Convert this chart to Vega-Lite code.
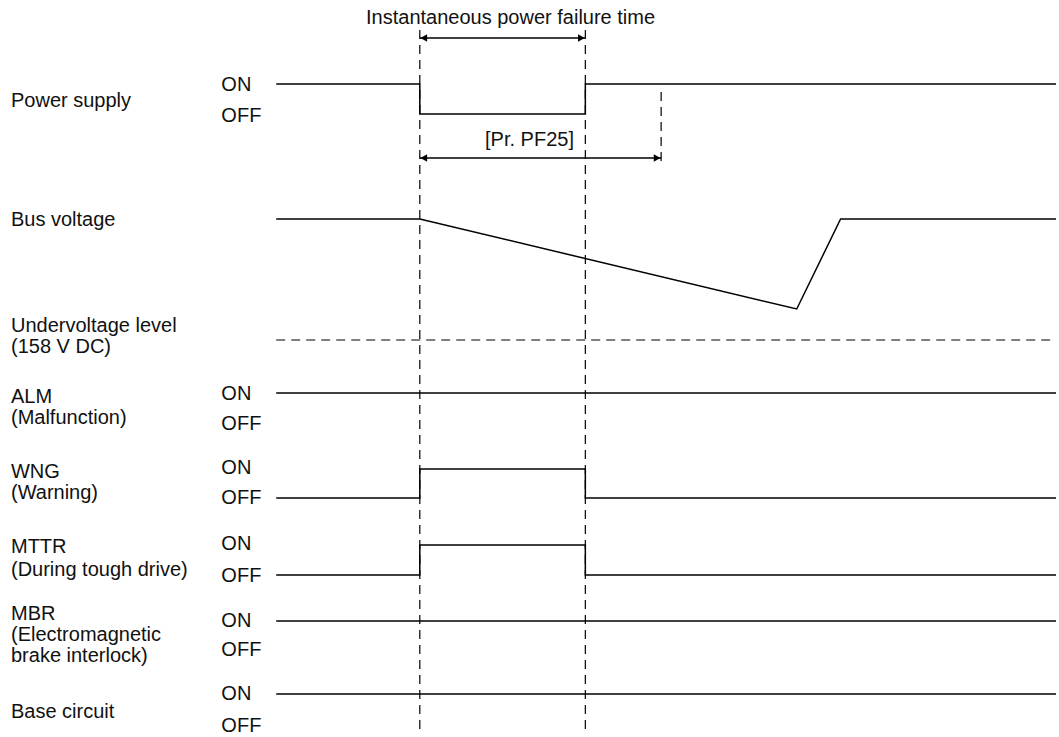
{
  "$schema": "https://vega.github.io/schema/vega-lite/v6.json",
  "width": 1059,
  "height": 737,
  "autosize": {"type": "fit", "contains": "padding"},
  "padding": 0,
  "background": "white",
  "config": {"view": {"stroke": null}},
  "datasets": {
    "signals": [
      {"sig": "power", "i": 0, "t": 277, "v": 84},
      {"sig": "power", "i": 1, "t": 421, "v": 84},
      {"sig": "power", "i": 2, "t": 421, "v": 114},
      {"sig": "power", "i": 3, "t": 587, "v": 114},
      {"sig": "power", "i": 4, "t": 587, "v": 84},
      {"sig": "power", "i": 5, "t": 1059, "v": 84},
      {"sig": "bus", "i": 0, "t": 277, "v": 219},
      {"sig": "bus", "i": 1, "t": 421, "v": 219},
      {"sig": "bus", "i": 2, "t": 799, "v": 309},
      {"sig": "bus", "i": 3, "t": 843, "v": 219},
      {"sig": "bus", "i": 4, "t": 1059, "v": 219},
      {"sig": "alm", "i": 0, "t": 277, "v": 393},
      {"sig": "alm", "i": 1, "t": 1059, "v": 393},
      {"sig": "wng", "i": 0, "t": 277, "v": 498},
      {"sig": "wng", "i": 1, "t": 421, "v": 498},
      {"sig": "wng", "i": 2, "t": 421, "v": 469},
      {"sig": "wng", "i": 3, "t": 587, "v": 469},
      {"sig": "wng", "i": 4, "t": 587, "v": 498},
      {"sig": "wng", "i": 5, "t": 1059, "v": 498},
      {"sig": "mttr", "i": 0, "t": 277, "v": 575},
      {"sig": "mttr", "i": 1, "t": 421, "v": 575},
      {"sig": "mttr", "i": 2, "t": 421, "v": 545},
      {"sig": "mttr", "i": 3, "t": 587, "v": 545},
      {"sig": "mttr", "i": 4, "t": 587, "v": 575},
      {"sig": "mttr", "i": 5, "t": 1059, "v": 575},
      {"sig": "mbr", "i": 0, "t": 277, "v": 621},
      {"sig": "mbr", "i": 1, "t": 1059, "v": 621},
      {"sig": "base", "i": 0, "t": 277, "v": 694},
      {"sig": "base", "i": 1, "t": 1059, "v": 694}
    ],
    "dashed": [
      {"name": "undervoltage", "t": 277, "t2": 1059, "v": 340, "v2": 340},
      {"name": "failure start", "t": 421, "t2": 421, "v": 30, "v2": 734},
      {"name": "power restored", "t": 587, "t2": 587, "v": 30, "v2": 734},
      {"name": "PF25 end", "t": 663, "t2": 663, "v": 92, "v2": 166}
    ],
    "arrows": [
      {"name": "failure time", "t": 421, "t2": 587, "v": 38, "v2": 38},
      {"name": "PF25", "t": 421, "t2": 663, "v": 158, "v2": 158}
    ],
    "heads": [
      {"t": 425, "v": 38, "dir": "triangle-left"},
      {"t": 583, "v": 38, "dir": "triangle-right"},
      {"t": 425, "v": 158, "dir": "triangle-left"},
      {"t": 659, "v": 158, "dir": "triangle-right"}
    ],
    "labels": [
      {"t": 11, "v": 101, "text": "Power supply"},
      {"t": 11, "v": 220, "text": "Bus voltage"},
      {"t": 11, "v": 326, "text": "Undervoltage level"},
      {"t": 11, "v": 347, "text": "(158 V DC)"},
      {"t": 11, "v": 397, "text": "ALM"},
      {"t": 11, "v": 418, "text": "(Malfunction)"},
      {"t": 11, "v": 472, "text": "WNG"},
      {"t": 11, "v": 493, "text": "(Warning)"},
      {"t": 11, "v": 547, "text": "MTTR"},
      {"t": 11, "v": 570, "text": "(During tough drive)"},
      {"t": 11, "v": 614, "text": "MBR"},
      {"t": 11, "v": 635, "text": "(Electromagnetic"},
      {"t": 11, "v": 656, "text": "brake interlock)"},
      {"t": 11, "v": 712, "text": "Base circuit"},
      {"t": 222, "v": 85, "text": "ON"},
      {"t": 222, "v": 116, "text": "OFF"},
      {"t": 222, "v": 394, "text": "ON"},
      {"t": 222, "v": 424, "text": "OFF"},
      {"t": 222, "v": 468, "text": "ON"},
      {"t": 222, "v": 498, "text": "OFF"},
      {"t": 222, "v": 544, "text": "ON"},
      {"t": 222, "v": 576, "text": "OFF"},
      {"t": 222, "v": 621, "text": "ON"},
      {"t": 222, "v": 650, "text": "OFF"},
      {"t": 222, "v": 694, "text": "ON"},
      {"t": 222, "v": 726, "text": "OFF"}
    ],
    "centered": [
      {"t": 512, "v": 18, "text": "Instantaneous power failure time"},
      {"t": 531, "v": 140, "text": "[Pr. PF25]"}
    ]
  },
  "layer": [
    {
      "data": {"name": "dashed"},
      "mark": {"type": "rule", "color": "#000000", "strokeWidth": 1.2, "strokeDash": [9, 6]},
      "encoding": {
        "x": {"field": "t", "type": "quantitative", "scale": {"domain": [0, 1059], "nice": false, "zero": false}, "axis": null},
        "x2": {"field": "t2"},
        "y": {"field": "v", "type": "quantitative", "scale": {"domain": [0, 737], "nice": false, "zero": false, "reverse": true}, "axis": null},
        "y2": {"field": "v2"}
      }
    },
    {
      "data": {"name": "signals"},
      "mark": {"type": "line", "color": "#000000", "strokeWidth": 1.5},
      "encoding": {
        "x": {"field": "t", "type": "quantitative"},
        "y": {"field": "v", "type": "quantitative"},
        "detail": {"field": "sig"},
        "order": {"field": "i", "type": "quantitative"}
      }
    },
    {
      "data": {"name": "arrows"},
      "mark": {"type": "rule", "color": "#000000", "strokeWidth": 1.5},
      "encoding": {
        "x": {"field": "t", "type": "quantitative"},
        "x2": {"field": "t2"},
        "y": {"field": "v", "type": "quantitative"},
        "y2": {"field": "v2"}
      }
    },
    {
      "data": {"name": "heads"},
      "mark": {"type": "point", "filled": true, "color": "#000000", "size": 60, "opacity": 1},
      "encoding": {
        "x": {"field": "t", "type": "quantitative"},
        "y": {"field": "v", "type": "quantitative"},
        "shape": {"field": "dir", "type": "nominal", "scale": null, "legend": null}
      }
    },
    {
      "data": {"name": "labels"},
      "mark": {"type": "text", "align": "left", "baseline": "middle", "font": "Liberation Sans", "fontSize": 20, "color": "#111111"},
      "encoding": {
        "x": {"field": "t", "type": "quantitative"},
        "y": {"field": "v", "type": "quantitative"},
        "text": {"field": "text"}
      }
    },
    {
      "data": {"name": "centered"},
      "mark": {"type": "text", "align": "center", "baseline": "middle", "font": "Liberation Sans", "fontSize": 20, "color": "#111111"},
      "encoding": {
        "x": {"field": "t", "type": "quantitative"},
        "y": {"field": "v", "type": "quantitative"},
        "text": {"field": "text"}
      }
    }
  ]
}
